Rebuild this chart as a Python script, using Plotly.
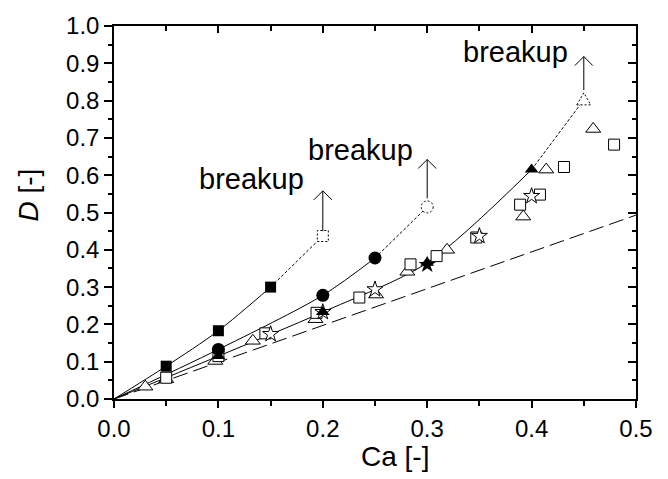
import plotly.graph_objects as go

# ---------------- data ----------------
# filled squares series (solid fit curve through origin)
sq_ca = [0.05, 0.10, 0.15]
sq_d = [0.088, 0.183, 0.300]
sq_break_ca = 0.20
sq_break_d = 0.437

# filled circles series
ci_ca = [0.10, 0.20, 0.25]
ci_d = [0.133, 0.278, 0.378]
ci_break_ca = 0.30
ci_break_d = 0.515

# filled triangles series
tr_ca = [0.10, 0.20, 0.30, 0.40]
tr_d = [0.115, 0.233, 0.365, 0.615]
tr_break_ca = 0.45
tr_break_d = 0.802

# filled stars
fs_ca = [0.30]
fs_d = [0.360]

# open triangles
ot_ca = [0.030, 0.050, 0.097, 0.133, 0.193, 0.251, 0.281, 0.319, 0.392, 0.414, 0.459]
ot_d = [0.033, 0.053, 0.102, 0.156, 0.214, 0.280, 0.341, 0.400, 0.489, 0.615, 0.724]

# open squares
os_ca = [0.050, 0.100, 0.145, 0.194, 0.235, 0.284, 0.309, 0.347, 0.389, 0.408, 0.431, 0.479]
os_d = [0.057, 0.115, 0.176, 0.231, 0.272, 0.361, 0.383, 0.433, 0.521, 0.548, 0.622, 0.682]

# open stars
ost_ca = [0.150, 0.200, 0.250, 0.350, 0.400]
ost_d = [0.174, 0.233, 0.294, 0.437, 0.544]

# small-deformation theory (straight line)
th_ca = [0.0, 0.5]
th_d = [0.0, 0.493]

# breakup arrows: x, bottom, tip ; label positions
arrow_x = [0.20, 0.30, 0.45]
arrow_y0 = [0.450, 0.538, 0.828]
arrow_y1 = [0.558, 0.642, 0.918]
label_x = [0.132, 0.236, 0.385]
label_y = [0.590, 0.668, 0.931]
label_text = ["breakup", "breakup", "breakup"]

FONT = "Liberation Sans, Arial, sans-serif"

fig = go.Figure()

# fit curves (solid, from origin through filled points)
for cx, cy in [(sq_ca, sq_d), (ci_ca, ci_d), (tr_ca, tr_d)]:
    fig.add_trace(go.Scatter(x=[0.0] + cx, y=[0.0] + cy, mode="lines",
                             line=dict(color="black", width=1, shape="spline", smoothing=0.8),
                             hoverinfo="skip", showlegend=False))

# dashed continuation to breakup
for cx, cy, bx, by in [(sq_ca, sq_d, sq_break_ca, sq_break_d),
                       (ci_ca, ci_d, ci_break_ca, ci_break_d),
                       (tr_ca, tr_d, tr_break_ca, tr_break_d)]:
    fig.add_trace(go.Scatter(x=[cx[-1], bx], y=[cy[-1], by], mode="lines",
                             line=dict(color="black", width=1, dash="3px,2px"),
                             hoverinfo="skip", showlegend=False))

# theory line
fig.add_trace(go.Scatter(x=th_ca, y=th_d, mode="lines",
                         line=dict(color="black", width=1, dash="15px,6px"),
                         showlegend=False))

# open markers
fig.add_trace(go.Scatter(x=ot_ca, y=ot_d, mode="markers",
                         marker=dict(symbol="triangle-up", size=13, color="white",
                                     line=dict(color="black", width=1)), showlegend=False))
fig.add_trace(go.Scatter(x=os_ca, y=os_d, mode="markers",
                         marker=dict(symbol="square", size=11, color="white",
                                     line=dict(color="black", width=1)), showlegend=False))
fig.add_trace(go.Scatter(x=ost_ca, y=ost_d, mode="markers",
                         marker=dict(symbol="star", size=12, color="white",
                                     line=dict(color="black", width=1)), showlegend=False))

# filled markers
fig.add_trace(go.Scatter(x=sq_ca, y=sq_d, mode="markers",
                         marker=dict(symbol="square", size=11, color="black"), showlegend=False))
fig.add_trace(go.Scatter(x=ci_ca, y=ci_d, mode="markers",
                         marker=dict(symbol="circle", size=13, color="black"), showlegend=False))
fig.add_trace(go.Scatter(x=tr_ca, y=tr_d, mode="markers",
                         marker=dict(symbol="triangle-up", size=12, color="black"), showlegend=False))
fig.add_trace(go.Scatter(x=fs_ca, y=fs_d, mode="markers",
                         marker=dict(symbol="star", size=13, color="black"), showlegend=False))

# dummy trace for the mirrored (top/right) axes
fig.add_trace(go.Scatter(x=[None], y=[None], xaxis="x2", yaxis="y2", showlegend=False))

shapes = []
# dashed open markers at breakup points
shapes.append(dict(type="rect", xref="x", yref="y", xsizemode="pixel", ysizemode="pixel",
                   xanchor=sq_break_ca, yanchor=sq_break_d, x0=-5.5, x1=5.5, y0=-5.5, y1=5.5,
                   line=dict(color="black", width=1, dash="2px,2px"), fillcolor="white"))
shapes.append(dict(type="circle", xref="x", yref="y", xsizemode="pixel", ysizemode="pixel",
                   xanchor=ci_break_ca, yanchor=ci_break_d, x0=-6, x1=6, y0=-6, y1=6,
                   line=dict(color="black", width=1, dash="2px,2px"), fillcolor="white"))
shapes.append(dict(type="path", xref="x", yref="y", xsizemode="pixel", ysizemode="pixel",
                   xanchor=tr_break_ca, yanchor=tr_break_d,
                   path="M-7,-5 L0,7 L7,-5 Z",
                   line=dict(color="black", width=1, dash="2px,2px"), fillcolor="white"))
# arrows
for ax_, y0, y1 in zip(arrow_x, arrow_y0, arrow_y1):
    shapes.append(dict(type="line", xref="x", yref="y", x0=ax_, x1=ax_, y0=y0, y1=y1,
                       line=dict(color="black", width=1)))
    shapes.append(dict(type="path", xref="x", yref="y", xsizemode="pixel", ysizemode="pixel",
                       xanchor=ax_, yanchor=y1, path="M-9,-9 L0,0 L9,-9",
                       line=dict(color="black", width=1)))

annotations = []
for lx, ly, t in zip(label_x, label_y, label_text):
    annotations.append(dict(x=lx, y=ly, xref="x", yref="y", text=t, showarrow=False,
                            xanchor="center", yanchor="middle",
                            font=dict(family=FONT, size=29, color="black")))
annotations.append(dict(x=0.538, y=-0.153, xref="paper", yref="paper", text="Ca [-]",
                        showarrow=False, xanchor="center", yanchor="middle",
                        font=dict(family=FONT, size=28, color="black")))
annotations.append(dict(x=-0.163, y=0.548, xref="paper", yref="paper", text="<i>D</i> [-]",
                        showarrow=False, xanchor="center", yanchor="middle", textangle=-90,
                        font=dict(family=FONT, size=28, color="black")))

axis_common = dict(showgrid=False, zeroline=False, showline=True, linecolor="black",
                   linewidth=1.5, tickcolor="black", tickwidth=1.5)

fig.update_layout(
    width=668, height=479,
    margin=dict(l=114, r=32, t=16, b=80),
    paper_bgcolor="white", plot_bgcolor="white",
    font=dict(family=FONT, size=24, color="black"),
    showlegend=False,
    xaxis=dict(range=[0, 0.5], dtick=0.1, tick0=0, tickformat=".1f", ticks="outside", ticklen=7,
               minor=dict(dtick=0.05, ticks="outside", ticklen=5, tickcolor="black", tickwidth=1.5),
               tickfont=dict(size=24), **axis_common),
    yaxis=dict(range=[0, 1.0], dtick=0.1, tick0=0, tickformat=".1f", ticks="outside", ticklen=8,
               minor=dict(dtick=0.05, ticks="outside", ticklen=4, tickcolor="black", tickwidth=1.5),
               tickfont=dict(size=24), **axis_common),
    xaxis2=dict(range=[0, 0.5], overlaying="x", side="top", dtick=0.1, tick0=0, ticks="inside",
                ticklen=7, showticklabels=False,
                minor=dict(dtick=0.05, ticks="inside", ticklen=5, tickcolor="black", tickwidth=1.5),
                **axis_common),
    yaxis2=dict(range=[0, 1.0], overlaying="y", side="right", dtick=0.1, tick0=0, ticks="inside",
                ticklen=8, showticklabels=False,
                minor=dict(dtick=0.05, ticks="inside", ticklen=4, tickcolor="black", tickwidth=1.5),
                **axis_common),
    shapes=shapes,
    annotations=annotations,
)

fig.write_html("out.html")
